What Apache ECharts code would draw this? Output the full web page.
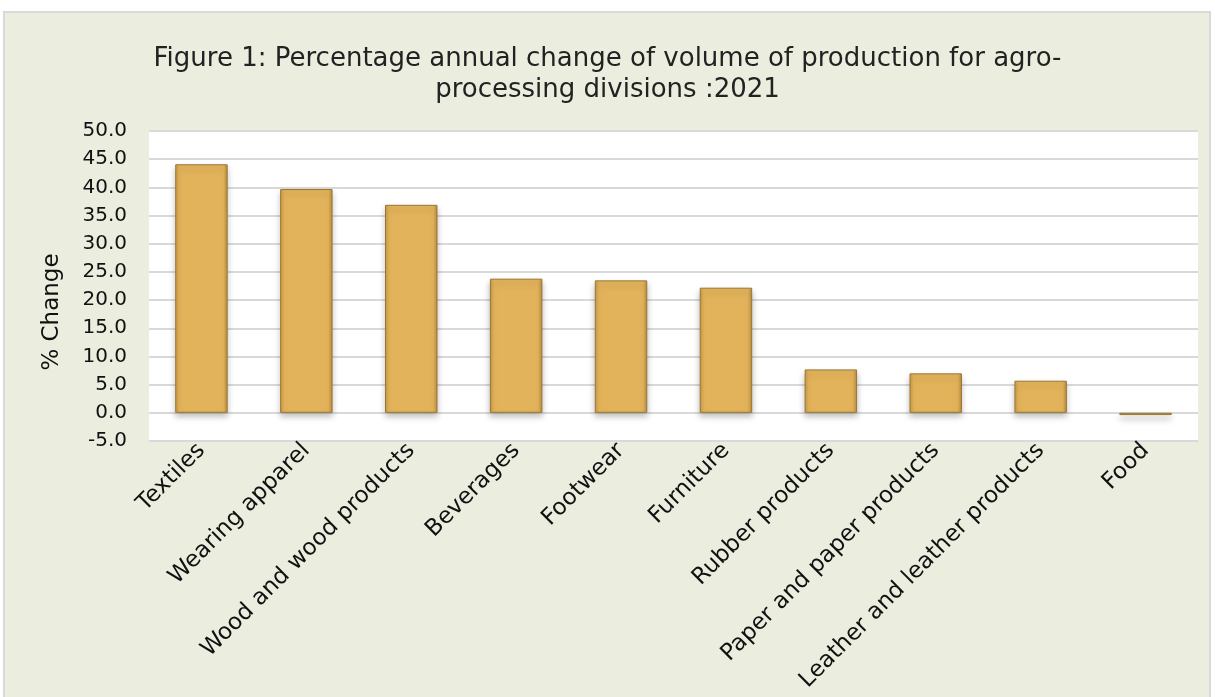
<!DOCTYPE html>
<html><head><meta charset="utf-8">
<script src="https://cdn.jsdelivr.net/npm/echarts@6/dist/echarts.min.js"></script>
<style>html,body{margin:0;padding:0;background:#fff}#c{width:1215px;height:697px}</style>
</head><body><div id="c"></div>
<script>
const categories = ["Textiles","Wearing apparel","Wood and wood products","Beverages","Footwear","Furniture","Rubber products","Paper and paper products","Leather and leather products","Food"];
const changeValues = [44.1, 39.7, 36.9, 23.8, 23.5, 22.2, 7.7, 7.0, 5.7, -0.4];
const yTicks = {min: -5, max: 50, interval: 5};
const titleText = "Figure 1: Percentage annual change of volume of production for agro-\nprocessing divisions :2021";
const yAxisName = "% Change";

const font = "'DejaVu Sans', sans-serif";
const chart = echarts.init(document.getElementById('c'));
chart.setOption({
  backgroundColor: '#ffffff',
  animation: false,
  graphic: [{
    type: 'rect', z: -10, silent: true,
    shape: {x: 4, y: 12, width: 1206, height: 700},
    style: {fill: '#ebeedf', stroke: '#d9d9d9', lineWidth: 2}
  }, {
    type: 'text', x: 52, y: 312, rotation: Math.PI / 2, silent: true,
    style: {text: yAxisName, fontFamily: font, fontSize: 23, fill: '#111', align: 'center', verticalAlign: 'middle'}
  }],
  title: {
    text: titleText, left: 'center', top: 39,
    textStyle: {fontFamily: font, fontSize: 26, fontWeight: 'normal', color: '#222', lineHeight: 31}
  },
  grid: {left: 149, right: 17, top: 131, height: 310, show: true, backgroundColor: '#ffffff', borderWidth: 0},
  xAxis: {
    type: 'category', data: categories,
    axisLine: {show: false, onZero: false}, axisTick: {show: false},
    axisLabel: {interval: 0, rotate: 45, fontFamily: font, fontSize: 23, color: '#111', margin: 6}
  },
  yAxis: {
    type: 'value', min: yTicks.min, max: yTicks.max, interval: yTicks.interval,
    axisLine: {show: false}, axisTick: {show: false},
    axisLabel: {fontFamily: font, fontSize: 20, color: '#111', margin: 22, formatter: v => v.toFixed(1)},
    splitLine: {lineStyle: {color: '#d9d9d9', width: 2}}
  },
  series: [{
    type: 'bar', data: changeValues, barWidth: '50%',
    itemStyle: {
      color: new echarts.graphic.LinearGradient(0, 0, 1, 0, [
        {offset: 0, color: '#c89a45'}, {offset: 0.08, color: '#e3b35b'},
        {offset: 0.92, color: '#e3b35b'}, {offset: 1, color: '#b88c3c'}
      ]),
      borderColor: '#9a7634', borderWidth: 1,
      shadowColor: 'rgba(0,0,0,0.25)', shadowBlur: 6, shadowOffsetY: 4
    }
  }]
});
</script></body></html>
